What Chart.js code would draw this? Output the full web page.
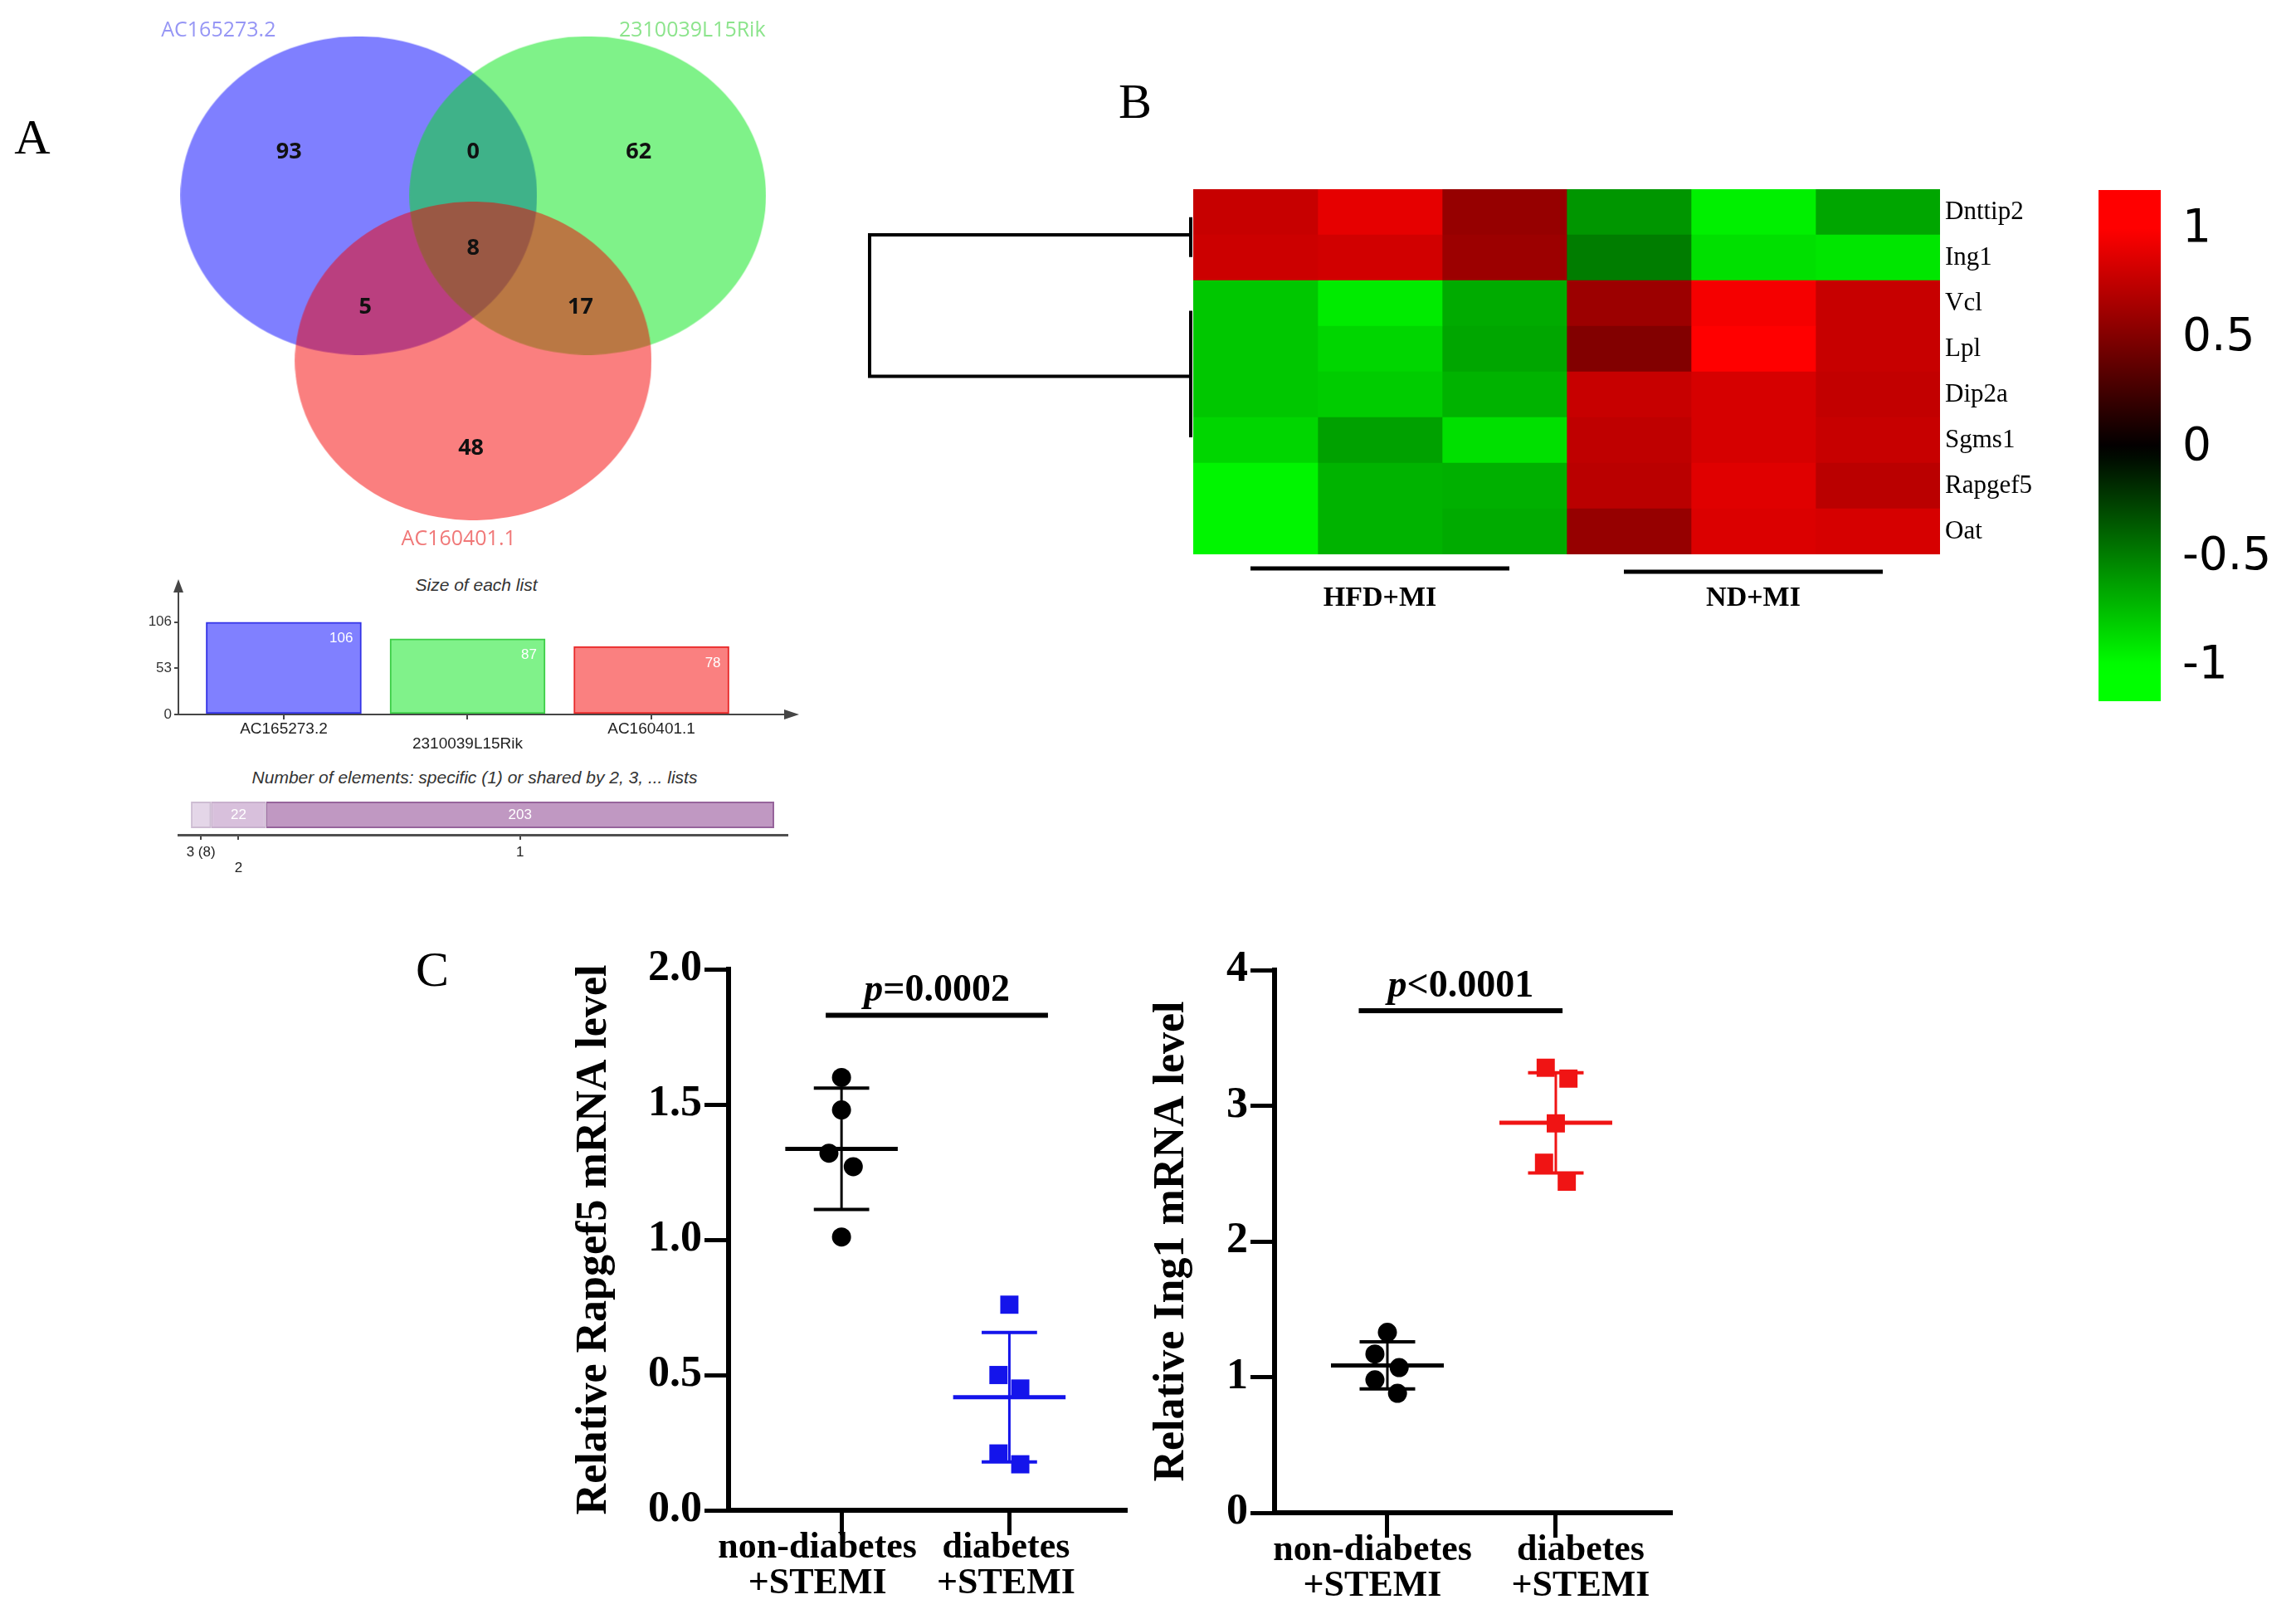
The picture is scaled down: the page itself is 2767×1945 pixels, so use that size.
<!DOCTYPE html>
<html>
<head>
<meta charset="utf-8">
<title>Venn, heatmap and qPCR panels</title>
<script src="https://cdn.jsdelivr.net/npm/chart.js@4.4.1/dist/chart.umd.min.js"></script>
<style>
  html, body { margin: 0; padding: 0; background: #fff; }
  #page { position: relative; width: 2767px; height: 1945px; overflow: hidden; background: #fff; }
  canvas { position: absolute; }
  .lbl { position: absolute; transform: translate(-50%, -50%); white-space: nowrap; }
  .panel { font-family: 'Liberation Serif', 'Times New Roman', serif; font-size: 60px; color: #000; }
  .sub { font-family: 'Liberation Sans', Arial, sans-serif; font-style: italic; font-size: 21px; color: #333; }
</style>
</head>
<body>
<div id="page">
  <div class="lbl panel" style="left:39px; top:165px">A</div>
  <div class="lbl panel" style="left:1368px; top:122px">B</div>
  <div class="lbl panel" style="left:521px; top:1168px">C</div>
  <div class="lbl sub" style="left:574px; top:705px">Size of each list</div>
  <div class="lbl sub" style="left:572px; top:937px">Number of elements: specific (1) or shared by 2, 3, ... lists</div>

  <canvas id="venn"></canvas>
  <canvas id="sizes"></canvas>
  <canvas id="shared"></canvas>
  <canvas id="heat"></canvas>
  <canvas id="scale"></canvas>
  <canvas id="rapgef5"></canvas>
  <canvas id="ing1"></canvas>
</div>

<script>
// ---------- data ----------
// Venn: three lists and the count in each region
const vennSets = ['AC165273.2', '2310039L15Rik', 'AC160401.1'];
// regions: only A, only B, only C, A&B, A&C, B&C, A&B&C
const vennRegions = [93, 62, 48, 0, 5, 17, 8];
const vennMembers = [[0], [1], [2], [0, 1], [0, 2], [1, 2], [0, 1, 2]];

// heatmap (row z-scores), columns = 3 HFD+MI samples then 3 ND+MI samples
const genes = ['Dnttip2', 'Ing1', 'Vcl', 'Lpl', 'Dip2a', 'Sgms1', 'Rapgef5', 'Oat'];
const samples = ['HFD+MI 1', 'HFD+MI 2', 'HFD+MI 3', 'ND+MI 1', 'ND+MI 2', 'ND+MI 3'];
const sampleGroups = ['HFD+MI', 'ND+MI'];
const heatValues = [
  [0.78, 0.90, 0.59, -0.59, -0.94, -0.65],
  [0.80, 0.82, 0.61, -0.49, -0.88, -0.90],
  [-0.78, -0.92, -0.67, 0.61, 0.96, 0.78],
  [-0.78, -0.84, -0.65, 0.51, 1.10, 0.78],
  [-0.78, -0.80, -0.70, 0.78, 0.84, 0.76],
  [-0.84, -0.63, -0.88, 0.75, 0.84, 0.78],
  [-0.96, -0.70, -0.69, 0.73, 0.88, 0.73],
  [-0.96, -0.70, -0.67, 0.59, 0.86, 0.84]
];
const colorRange = [-1.16, 1.18];
const colorTicks = [-1, -0.5, 0, 0.5, 1];

// qPCR
const groupLabels = [['non-diabetes', '+STEMI'], ['diabetes', '+STEMI']];
const rapgef5Control = [1.60, 1.48, 1.32, 1.27, 1.01];
const rapgef5Diabetes = [0.76, 0.50, 0.45, 0.21, 0.17];
const ing1Control = [1.33, 1.17, 1.07, 0.98, 0.88];
const ing1Diabetes = [3.28, 3.20, 2.87, 2.58, 2.44];
// horizontal scatter of the dots around each group position
const rapgef5ControlJitter = [0, 0, -0.075, 0.07, 0];
const rapgef5DiabetesJitter = [0, -0.065, 0.065, -0.065, 0.065];
const ing1ControlJitter = [0, -0.074, 0.07, -0.074, 0.06];
const ing1DiabetesJitter = [-0.06, 0.075, 0, -0.07, 0.065];
const rapgef5Ticks = [0, 0.5, 1, 1.5, 2];
const ing1Ticks = [0, 1, 2, 3, 4];

// ---------- setup ----------
Chart.defaults.animation = false;
Chart.defaults.responsive = false;
Chart.defaults.events = [];
Chart.defaults.plugins.legend.display = false;
Chart.defaults.plugins.tooltip.enabled = false;

const SERIF = "'Liberation Serif', 'Times New Roman', serif";
const SANS = "'Liberation Sans', Arial, sans-serif";

function place(id, box) {
  const c = document.getElementById(id);
  c.width = box.w; c.height = box.h;
  c.style.left = box.x + 'px'; c.style.top = box.y + 'px';
  return c;
}

function heatColor(v) {
  const c = Math.round(255 * Math.min(Math.abs(v), 1));
  return v >= 0 ? `rgb(${c},0,0)` : `rgb(0,${c},0)`;
}

function mean(a) { return a.reduce((s, v) => s + v, 0) / a.length; }
function sd(a) {
  const m = mean(a);
  return Math.sqrt(a.reduce((s, v) => s + (v - m) * (v - m), 0) / (a.length - 1));
}

// ---------- A: Venn ----------
const vennBox = { x: 0, y: 0, w: 1000, h: 690 };
const vennX = [-1.528, 2.018], vennY = [-0.823, 1.624];
const vennCenters = [{ x: 0, y: 0 }, { x: 1, y: 0 }, { x: 0.5, y: 0.73 }];
const vennFill = ['rgba(0,0,255,0.5)', 'rgba(0,230,20,0.5)', 'rgba(245,0,0,0.5)'];
const vennLabelColor = ['rgb(150,150,245)', 'rgb(140,228,140)', 'rgb(240,120,120)'];
const vennRegionPos = [[-0.305, -0.19], [1.223, -0.19], [0.49, 1.117], [0.5, -0.19], [0.028, 0.493], [0.968, 0.493], [0.5, 0.234]];
const vennLabelPos = [[-0.613, -0.73], [1.457, -0.73], [0.436, 1.518]];
const vennUnit = vennBox.w / (vennX[1] - vennX[0]);

function ellipseImage(rx, ry, color) {
  const c = document.createElement('canvas');
  c.width = Math.round(rx * 2); c.height = Math.round(ry * 2);
  const g = c.getContext('2d');
  g.fillStyle = color;
  g.beginPath(); g.ellipse(c.width / 2, c.height / 2, rx, ry, 0, 0, Math.PI * 2); g.fill();
  return c;
}

new Chart(place('venn', vennBox), {
  type: 'scatter',
  data: {
    datasets: [{
      data: vennCenters,
      pointStyle: vennFill.map(f => ellipseImage(0.762 * vennUnit, 0.681 * vennUnit, f)),
      pointRadius: 10
    }]
  },
  options: {
    devicePixelRatio: 1,
    layout: { padding: 0 },
    scales: {
      x: { type: 'linear', display: false, min: vennX[0], max: vennX[1] },
      y: { type: 'linear', display: false, min: vennY[0], max: vennY[1], reverse: true }
    }
  },
  plugins: [{
    id: 'vennText',
    afterDatasetsDraw(chart) {
      const { ctx, scales: { x, y } } = chart;
      ctx.save();
      ctx.textAlign = 'center'; ctx.textBaseline = 'middle';
      ctx.fillStyle = '#111';
      ctx.font = "bold 27px 'Open Sans', sans-serif";
      vennRegions.forEach((n, i) => {
        ctx.fillText(String(n), x.getPixelForValue(vennRegionPos[i][0]), y.getPixelForValue(vennRegionPos[i][1]));
      });
      ctx.font = "25px 'Open Sans', sans-serif";
      vennSets.forEach((s, i) => {
        ctx.fillStyle = vennLabelColor[i];
        ctx.fillText(s, x.getPixelForValue(vennLabelPos[i][0]), y.getPixelForValue(vennLabelPos[i][1]));
      });
      ctx.restore();
    }
  }]
});

// ---------- A: size of each list ----------
const listSizes = vennSets.map((s, i) =>
  vennRegions.reduce((acc, n, r) => acc + (vennMembers[r].includes(i) ? n : 0), 0));
const sizeTicks = [0, listSizes[0] / 2, listSizes[0]];
const sizeFill = ['rgb(128,128,255)', 'rgb(128,242,138)', 'rgb(250,128,128)'];
const sizeEdge = ['rgb(50,50,230)', 'rgb(60,205,70)', 'rgb(232,40,40)'];
const sizeBox = { x: 150, y: 690, w: 850, h: 230 };
const sizeArea = { l: 215, t: 712, r: 947, b: 861 };
const AXIS_GREY = 'rgb(70,70,70)';

function arrowHead(ctx, x, y, dir) {
  ctx.beginPath();
  if (dir === 'up') { ctx.moveTo(x, y - 14); ctx.lineTo(x - 6, y + 2); ctx.lineTo(x + 6, y + 2); }
  else { ctx.moveTo(x + 16, y); ctx.lineTo(x - 2, y - 6); ctx.lineTo(x - 2, y + 6); }
  ctx.closePath(); ctx.fill();
}

new Chart(place('sizes', sizeBox), {
  type: 'bar',
  data: {
    datasets: [{
      data: listSizes.map((v, i) => ({ x: i, y: v })),
      backgroundColor: sizeFill,
      borderColor: sizeEdge,
      borderWidth: 2,
      borderSkipped: false,
      barThickness: 187
    }]
  },
  options: {
    devicePixelRatio: 1,
    layout: { padding: { left: 0, top: sizeArea.t - sizeBox.y, right: sizeBox.x + sizeBox.w - sizeArea.r, bottom: 0 } },
    scales: {
      x: {
        type: 'linear', min: -0.573, max: 2.731, offset: false,
        afterBuildTicks: s => { s.ticks = listSizes.map((v, i) => ({ value: i })); },
        afterFit: s => { s.height = sizeBox.y + sizeBox.h - sizeArea.b; },
        ticks: {
          autoSkip: false, maxRotation: 0, padding: 3, color: '#222',
          font: { family: SANS, size: 19, lineHeight: 0.95 },
          callback: (v, i) => i === 1 ? ['', vennSets[i]] : vennSets[i]
        },
        grid: { drawOnChartArea: false, offset: false, tickLength: 6, color: AXIS_GREY, lineWidth: 2 },
        border: { display: true, color: AXIS_GREY, width: 2 }
      },
      y: {
        min: 0, max: 142,
        afterBuildTicks: s => { s.ticks = sizeTicks.map(v => ({ value: v })); },
        afterFit: s => { s.width = sizeArea.l - sizeBox.x; },
        ticks: { color: '#333', padding: 3, font: { family: SANS, size: 17 } },
        grid: { drawOnChartArea: false, tickLength: 5, color: AXIS_GREY, lineWidth: 2 },
        border: { display: true, color: AXIS_GREY, width: 2 }
      }
    }
  },
  plugins: [{
    id: 'sizeDecor',
    afterDraw(chart) {
      const { ctx, chartArea: a } = chart;
      const meta = chart.getDatasetMeta(0);
      ctx.save();
      ctx.fillStyle = AXIS_GREY;
      arrowHead(ctx, a.left, a.top, 'up');
      arrowHead(ctx, a.right, a.bottom, 'right');
      ctx.fillStyle = '#fff';
      ctx.font = `17px ${SANS}`;
      ctx.textAlign = 'right'; ctx.textBaseline = 'middle';
      meta.data.forEach((bar, i) => {
        ctx.fillText(String(listSizes[i]), bar.x + bar.width / 2 - 10, bar.y + 20);
      });
      ctx.restore();
    }
  }]
});

// ---------- A: number of elements shared ----------
// index 0: shared by 3, 1: shared by 2, 2: specific
const sharedCounts = [3, 2, 1].map(k =>
  vennRegions.reduce((acc, n, r) => acc + (vennMembers[r].length === k ? n : 0), 0));
const sharedNames = [`3 (${sharedCounts[0]})`, '2', '1'];
const sharedFill = ['rgb(228,214,232)', 'rgb(216,192,220)', 'rgb(192,152,194)'];
const sharedEdge = ['rgb(205,188,210)', 'rgb(200,176,205)', 'rgb(150,100,155)'];
const sharedBox = { x: 150, y: 950, w: 850, h: 110 };
const sharedArea = { l: 215, t: 958, r: 949, b: 1006 };
const sharedCenters = sharedCounts.map((v, i) =>
  sharedCounts.slice(0, i).reduce((s, w) => s + w, 0) + v / 2);

new Chart(place('shared', sharedBox), {
  type: 'bar',
  data: {
    labels: [''],
    datasets: sharedCounts.map((v, i) => ({
      data: [v],
      backgroundColor: sharedFill[i],
      borderColor: sharedEdge[i],
      borderWidth: 2,
      borderSkipped: false,
      barPercentage: 0.667,
      categoryPercentage: 1
    }))
  },
  options: {
    devicePixelRatio: 1,
    indexAxis: 'y',
    layout: { padding: { left: sharedArea.l - sharedBox.x, top: sharedArea.t - sharedBox.y, right: sharedBox.x + sharedBox.w - sharedArea.r, bottom: 0 } },
    scales: {
      x: {
        type: 'linear', stacked: true, min: -5, max: 238.3,
        afterBuildTicks: s => { s.ticks = sharedCenters.map(v => ({ value: v })); },
        afterFit: s => { s.height = sharedBox.y + sharedBox.h - sharedArea.b; },
        ticks: {
          autoSkip: false, maxRotation: 0, padding: 6, color: '#222',
          font: { family: SANS, size: 17, lineHeight: 1.1 },
          callback: (v, i) => i === 1 ? ['', sharedNames[i]] : sharedNames[i]
        },
        grid: { drawOnChartArea: false, tickLength: 6, color: AXIS_GREY, lineWidth: 2 },
        border: { display: true, color: 'rgb(80,80,80)', width: 3 }
      },
      y: { stacked: true, display: false }
    }
  },
  plugins: [{
    id: 'sharedText',
    afterDatasetsDraw(chart) {
      const { ctx } = chart;
      ctx.save();
      ctx.fillStyle = '#fff'; ctx.font = `17px ${SANS}`;
      ctx.textAlign = 'center'; ctx.textBaseline = 'middle';
      sharedCounts.forEach((v, i) => {
        if (v < 15) return;
        const bar = chart.getDatasetMeta(i).data[0];
        ctx.fillText(String(v), (bar.x + bar.base) / 2, bar.y);
      });
      ctx.restore();
    }
  }]
});

// ---------- B: heatmap ----------
const heatBox = { x: 1000, y: 200, w: 1520, h: 560 };
const heatArea = { l: 1438, t: 228, r: 2338, b: 668 };
// dendrogram branch spans in row units
const dendroClusters = [{ span: [0.15, 0.95], join: 0.5 }, { span: [2.2, 4.9], join: 3.6 }];

new Chart(place('heat', heatBox), {
  type: 'bar',
  data: {
    labels: genes,
    datasets: samples.map((s, si) => ({
      label: s,
      data: genes.map(() => 1),
      backgroundColor: genes.map((g, gi) => heatColor(heatValues[gi][si])),
      borderWidth: 0,
      barPercentage: 1,
      categoryPercentage: 1
    }))
  },
  options: {
    devicePixelRatio: 1,
    indexAxis: 'y',
    layout: { padding: { left: heatArea.l - heatBox.x, top: heatArea.t - heatBox.y, right: 0, bottom: heatBox.y + heatBox.h - heatArea.b } },
    scales: {
      x: { type: 'linear', stacked: true, display: false, min: 0, max: samples.length },
      y: {
        type: 'category', stacked: true, position: 'right', offset: true,
        afterFit: s => { s.width = heatBox.x + heatBox.w - heatArea.r; },
        grid: { display: false, drawTicks: false },
        border: { display: false },
        ticks: { color: '#000', padding: 6, font: { family: SERIF, size: 31 } }
      }
    }
  },
  plugins: [{
    id: 'heatDecor',
    afterDraw(chart) {
      const { ctx, chartArea: a, scales: { x, y } } = chart;
      ctx.save();
      ctx.strokeStyle = '#000'; ctx.lineWidth = 4; ctx.lineCap = 'square';
      const leafX = a.left - 3, rootX = a.left - 390;
      ctx.beginPath();
      dendroClusters.forEach(c => {
        ctx.moveTo(leafX, y.getPixelForValue(c.span[0]));
        ctx.lineTo(leafX, y.getPixelForValue(c.span[1]));
        ctx.moveTo(leafX, y.getPixelForValue(c.join));
        ctx.lineTo(rootX, y.getPixelForValue(c.join));
      });
      ctx.moveTo(rootX, y.getPixelForValue(dendroClusters[0].join));
      ctx.lineTo(rootX, y.getPixelForValue(dendroClusters[1].join));
      ctx.stroke();

      ctx.lineWidth = 5; ctx.lineCap = 'butt';
      ctx.fillStyle = '#000';
      ctx.font = `bold 34px ${SERIF}`;
      ctx.textAlign = 'center'; ctx.textBaseline = 'middle';
      sampleGroups.forEach((g, gi) => {
        const c = gi * 3 + 1.5;
        const yy = a.bottom + 17 + gi * 4;
        ctx.beginPath();
        ctx.moveTo(x.getPixelForValue(c - 1.04), yy);
        ctx.lineTo(x.getPixelForValue(c + 1.04), yy);
        ctx.stroke();
        ctx.fillText(g, x.getPixelForValue(c), a.bottom + 53);
      });
      ctx.restore();
    }
  }]
});

// ---------- B: colour key ----------
const scaleBox = { x: 2500, y: 190, w: 267, h: 700 };
const scaleArea = { l: 2529, t: 229, r: 2604, b: 845 };

new Chart(place('scale', scaleBox), {
  type: 'bar',
  data: {
    labels: ['z'],
    datasets: [{
      data: [colorRange],
      barPercentage: 1, categoryPercentage: 1, borderWidth: 0,
      backgroundColor: c => {
        const ch = c.chart;
        if (!ch.chartArea) return 'black';
        const ys = ch.scales.y;
        const g = ch.ctx.createLinearGradient(0, ys.getPixelForValue(colorRange[0]), 0, ys.getPixelForValue(colorRange[1]));
        for (let k = 0; k <= 40; k++) {
          const v = colorRange[0] + (colorRange[1] - colorRange[0]) * k / 40;
          g.addColorStop(k / 40, heatColor(v));
        }
        return g;
      }
    }]
  },
  options: {
    devicePixelRatio: 1,
    layout: { padding: { left: scaleArea.l - scaleBox.x, top: scaleArea.t - scaleBox.y, right: 0, bottom: scaleBox.y + scaleBox.h - scaleArea.b } },
    scales: {
      x: { display: false },
      y: {
        position: 'right', min: colorRange[0], max: colorRange[1],
        afterBuildTicks: s => { s.ticks = colorTicks.map(v => ({ value: v })); },
        afterFit: s => { s.width = scaleBox.x + scaleBox.w - scaleArea.r; },
        grid: { display: false, drawTicks: true, tickLength: 26 },
        border: { display: false },
        ticks: { color: '#000', padding: 0, font: { family: "'DejaVu Sans', sans-serif", size: 55, lineHeight: 1 }, callback: v => String(v) }
      }
    }
  }
});

// ---------- C: qPCR dot plots ----------
function dotPlot(id, cfg) {
  const { box, area } = cfg;
  const groups = [cfg.control, cfg.diabetes];
  const jit = [cfg.controlJitter, cfg.diabetesJitter];
  const colors = ['#000', cfg.color];
  const shapes = ['circle', 'rect'];
  const sizes = [11.5, 15.5];
  const datasets = [];
  groups.forEach((vals, g) => {
    const c = g + 1, m = mean(vals), s = sd(vals);
    datasets.push({
      data: vals.map((v, i) => ({ x: c + jit[g][i], y: v })),
      pointStyle: shapes[g], pointRadius: sizes[g], pointBackgroundColor: colors[g],
      pointBorderWidth: 0, showLine: false, order: 0
    });
    const seg = (pts, w) => ({
      data: pts, showLine: true, borderColor: colors[g], borderWidth: w,
      pointRadius: 0, order: 1
    });
    datasets.push(seg([{ x: c - 0.335, y: m }, { x: c + 0.335, y: m }], 5));
    datasets.push(seg([{ x: c, y: m - s }, { x: c, y: m + s }], 3));
    datasets.push(seg([{ x: c - 0.165, y: m + s }, { x: c + 0.165, y: m + s }], 4));
    datasets.push(seg([{ x: c - 0.165, y: m - s }, { x: c + 0.165, y: m - s }], 4));
  });
  const b = cfg.bracket;
  datasets.push({
    data: [{ x: b.x0, y: b.y }, { x: b.x1, y: b.y }], showLine: true,
    borderColor: '#000', borderWidth: 6, pointRadius: 0, order: 1
  });

  new Chart(place(id, box), {
    type: 'scatter',
    data: { datasets },
    options: {
      devicePixelRatio: 1,
      layout: { padding: { left: 0, top: area.t - box.y, right: box.x + box.w - area.r, bottom: 0 } },
      scales: {
        x: {
          type: 'linear', min: cfg.xRange[0], max: cfg.xRange[1],
          afterBuildTicks: s => { s.ticks = groupLabels.map((l, i) => ({ value: i + 1 })); },
          afterFit: s => { s.height = box.y + box.h - area.b; },
          ticks: { display: false },
          grid: { drawOnChartArea: false, tickLength: 30, color: '#000', lineWidth: 5 },
          border: { display: true, color: '#000', width: 6 }
        },
        y: {
          min: 0, max: cfg.yTicks[cfg.yTicks.length - 1],
          afterBuildTicks: s => { s.ticks = cfg.yTicks.map(v => ({ value: v })); },
          afterFit: s => { s.width = area.l - box.x; },
          ticks: {
            color: '#000', padding: 3,
            font: { family: SERIF, size: 52, weight: 'bold' },
            callback: v => v.toFixed(cfg.decimals)
          },
          grid: { drawOnChartArea: false, tickLength: 29, color: '#000', lineWidth: 5 },
          border: { display: true, color: '#000', width: 6 },
          title: {
            display: true, text: cfg.title, color: '#000', padding: { top: 4, bottom: 4 },
            font: { family: SERIF, size: 52, weight: 'bold' }
          }
        }
      }
    },
    plugins: [{
      id: 'plotText',
      afterDraw(chart) {
        const { ctx, chartArea: a, scales: { x, y } } = chart;
        ctx.save();
        ctx.fillStyle = '#000';
        // group labels under the axis
        ctx.font = `bold 44px ${SERIF}`;
        ctx.textAlign = 'center'; ctx.textBaseline = 'middle';
        groupLabels.forEach((lines, i) => {
          const gx = x.getPixelForValue(i + 1) + cfg.labelShift[i];
          lines.forEach((t, k) => ctx.fillText(t, gx, a.bottom + 46 + k * 43));
        });
        // p value over the bracket
        const cx = x.getPixelForValue((b.x0 + b.x1) / 2);
        const cy = y.getPixelForValue(b.y) - 17;
        const f1 = `italic bold 46px ${SERIF}`, f2 = `bold 46px ${SERIF}`;
        ctx.textAlign = 'left'; ctx.textBaseline = 'alphabetic';
        ctx.font = f1; const w1 = ctx.measureText('p').width;
        ctx.font = f2; const w2 = ctx.measureText(cfg.pText).width;
        const sx = cx - (w1 + w2) / 2;
        ctx.font = f1; ctx.fillText('p', sx, cy);
        ctx.font = f2; ctx.fillText(cfg.pText, sx + w1, cy);
        ctx.restore();
      }
    }]
  });
}

dotPlot('rapgef5', {
  box: { x: 681, y: 1100, w: 699, h: 845 },
  area: { l: 878, t: 1168, r: 1356, b: 1820 },
  xRange: [0.327, 2.69],
  control: rapgef5Control, diabetes: rapgef5Diabetes,
  controlJitter: rapgef5ControlJitter, diabetesJitter: rapgef5DiabetesJitter,
  color: 'rgb(20,20,235)',
  yTicks: rapgef5Ticks, decimals: 1,
  title: 'Relative Rapgef5 mRNA level',
  bracket: { x0: 0.906, x1: 2.23, y: 1.83 },
  pText: '=0.0002',
  labelShift: [-29, -4]
});

dotPlot('ing1', {
  box: { x: 1377, y: 1100, w: 663, h: 845 },
  area: { l: 1536, t: 1169, r: 2013, b: 1823 },
  xRange: [0.33, 2.68],
  control: ing1Control, diabetes: ing1Diabetes,
  controlJitter: ing1ControlJitter, diabetesJitter: ing1DiabetesJitter,
  color: 'rgb(240,20,20)',
  yTicks: ing1Ticks, decimals: 0,
  title: 'Relative Ing1 mRNA level',
  bracket: { x0: 0.83, x1: 2.04, y: 3.70 },
  pText: '<0.0001',
  labelShift: [-18, 30]
});
</script>
</body>
</html>
